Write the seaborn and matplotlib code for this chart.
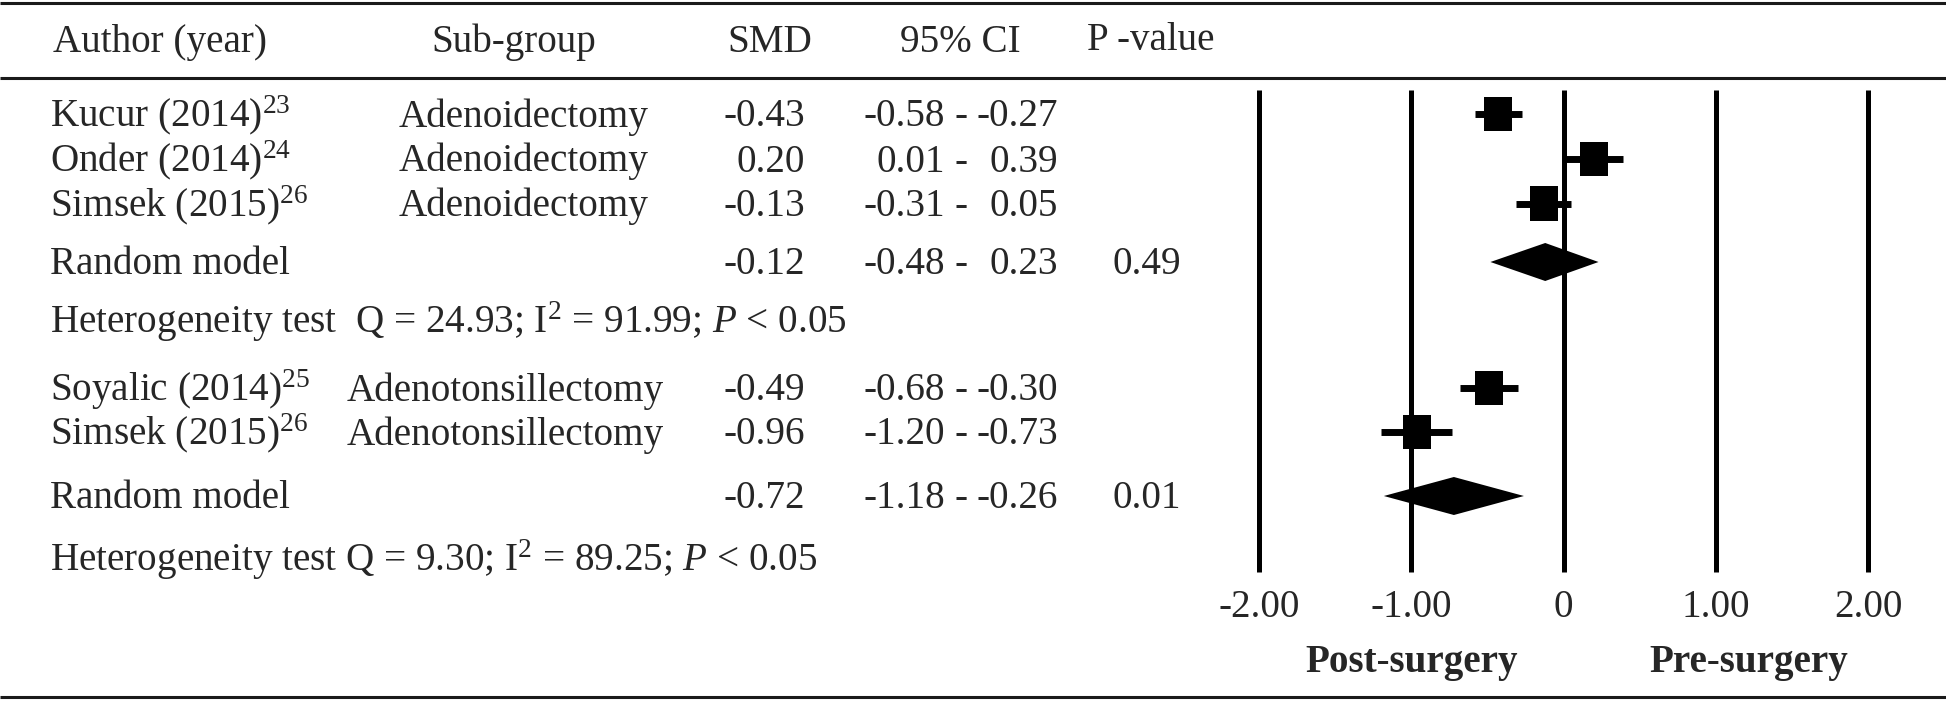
import numpy as np
import pandas as pd
import matplotlib
matplotlib.use("Agg")
import matplotlib.pyplot as plt
import seaborn as sns

# ---- data ----
authors = ["Kucur (2014)$^{23}$", "Onder (2014)$^{24}$", "Simsek (2015)$^{26}$",
           "Soyalic (2014)$^{25}$", "Simsek (2015)$^{26}$"]
subgroups = ["Adenoidectomy", "Adenoidectomy", "Adenoidectomy",
             "Adenotonsillectomy", "Adenotonsillectomy"]
group = [1, 1, 1, 2, 2]
smd = [-0.43, 0.20, -0.13, -0.49, -0.96]
ci_lo = [-0.58, 0.01, -0.31, -0.68, -1.20]
ci_hi = [-0.27, 0.39, 0.05, -0.30, -0.73]

pooled_smd = [-0.12, -0.72]
pooled_lo = [-0.48, -1.18]
pooled_hi = [0.23, -0.26]
pooled_p = ["0.49", "0.01"]

het_text = ["Heterogeneity test  Q = 24.93; I$^{2}$ = 91.99; $P$ < 0.05",
            "Heterogeneity test Q = 9.30; I$^{2}$ = 89.25; $P$ < 0.05"]

ticks = [-2, -1, 0, 1, 2]
tick_labels = ["-2.00", "-1.00", "0", "1.00", "2.00"]
side_labels = ["Post-surgery", "Pre-surgery"]

# ---- layout (pixels, figure is 1946 x 702) ----
W, H = 1946, 702
study_y = [114, 159, 203.5, 388, 432]
pooled_y = [262, 496]
het_y = [320, 558]
sub_x = {1: 399, 2: 347}
x0, px_per_unit = 1563.5, 152.25
fs = 28.2
cap = 12.5  # half cap height in px -> baseline offset

sns.set_theme(style="white")
plt.rcParams["font.family"] = ["Liberation Serif", "DejaVu Serif"]
plt.rcParams["mathtext.fontset"] = "custom"
plt.rcParams["mathtext.rm"] = "Liberation Serif"
plt.rcParams["mathtext.it"] = "Liberation Serif:italic"
plt.rcParams["mathtext.bf"] = "Liberation Serif:bold"

fig = plt.figure(figsize=(W / 100, H / 100), dpi=100)
fig.patch.set_facecolor("white")

# text/table axes in pixel coordinates
ax_t = fig.add_axes([0, 0, 1, 1])
ax_t.set_xlim(0, W)
ax_t.set_ylim(H, 0)
ax_t.axis("off")

# forest axes: x in SMD units, y in pixel rows
ax = fig.add_axes([0, 0, 1, 1])
ax.patch.set_alpha(0)

# horizontal rules
ax_t.hlines([3, 78, 697], 0, W, color="#1a1a1a", lw=2.2)

# header
hy = 52
ax_t.text(53, hy, "Author (year)", fontsize=fs, ha="left", va="baseline")
ax_t.text(514, hy, "Sub-group", fontsize=fs, ha="center", va="baseline")
ax_t.text(770, hy, "SMD", fontsize=fs, ha="center", va="baseline")
ax_t.text(960, hy, "95% CI", fontsize=fs, ha="center", va="baseline")
ax_t.text(1087, hy - 2, "P -value", fontsize=fs, ha="left", va="baseline")

# study rows
for i in range(len(authors)):
    by = study_y[i] + cap
    ax_t.text(50, by, authors[i], fontsize=fs, ha="left", va="baseline")
    ax_t.text(sub_x[group[i]], by, subgroups[i], fontsize=fs, ha="left", va="baseline")
    ax_t.text(805, by, f"{smd[i]:.2f}", fontsize=fs, ha="right", va="baseline")
    ax_t.text(945, by, f"{ci_lo[i]:.2f}", fontsize=fs, ha="right", va="baseline")
    ax_t.text(961, by, "-", fontsize=fs, ha="center", va="baseline")
    ax_t.text(1058, by, f"{ci_hi[i]:.2f}", fontsize=fs, ha="right", va="baseline")

# pooled rows
for j in range(2):
    by = pooled_y[j] + cap
    ax_t.text(50, by, "Random model", fontsize=fs, ha="left", va="baseline")
    ax_t.text(805, by, f"{pooled_smd[j]:.2f}", fontsize=fs, ha="right", va="baseline")
    ax_t.text(945, by, f"{pooled_lo[j]:.2f}", fontsize=fs, ha="right", va="baseline")
    ax_t.text(961, by, "-", fontsize=fs, ha="center", va="baseline")
    ax_t.text(1058, by, f"{pooled_hi[j]:.2f}", fontsize=fs, ha="right", va="baseline")
    ax_t.text(1147, by, pooled_p[j], fontsize=fs, ha="center", va="baseline")
    ax_t.text(50, het_y[j] + cap, het_text[j], fontsize=fs, ha="left", va="baseline")

# forest plot
ax.vlines(ticks, 90, 572, color="black", lw=3.6, zorder=1)
ax.hlines(study_y, ci_lo, ci_hi, color="black", lw=5, zorder=2)

df = pd.DataFrame({"smd": smd, "y": study_y})
rect = [(-0.4, -0.5), (0.4, -0.5), (0.4, 0.5), (-0.4, 0.5), (-0.4, -0.5)]
sns.scatterplot(data=df, x="smd", y="y", marker=rect, s=635, color="black",
                linewidth=0, edgecolor="none", legend=False, ax=ax, zorder=3)

for j in range(2):
    yc = pooled_y[j]
    ax.fill([pooled_lo[j], pooled_smd[j], pooled_hi[j], pooled_smd[j]],
            [yc, yc - 19, yc, yc + 19], color="black", lw=0, zorder=3)

ax.set_xlim((0 - x0) / px_per_unit, (W - x0) / px_per_unit)
ax.set_ylim(H, 0)
ax.axis("off")

for t, lab in zip(ticks, tick_labels):
    ax.text(t, 617, lab, fontsize=fs, ha="center", va="baseline")

ax.text(-1.0, 672, side_labels[0], fontsize=fs, fontweight="bold", ha="center", va="baseline")
ax.text(1.22, 672, side_labels[1], fontsize=fs, fontweight="bold", ha="center", va="baseline")

fig.savefig("out.png", dpi=100, facecolor="white")
